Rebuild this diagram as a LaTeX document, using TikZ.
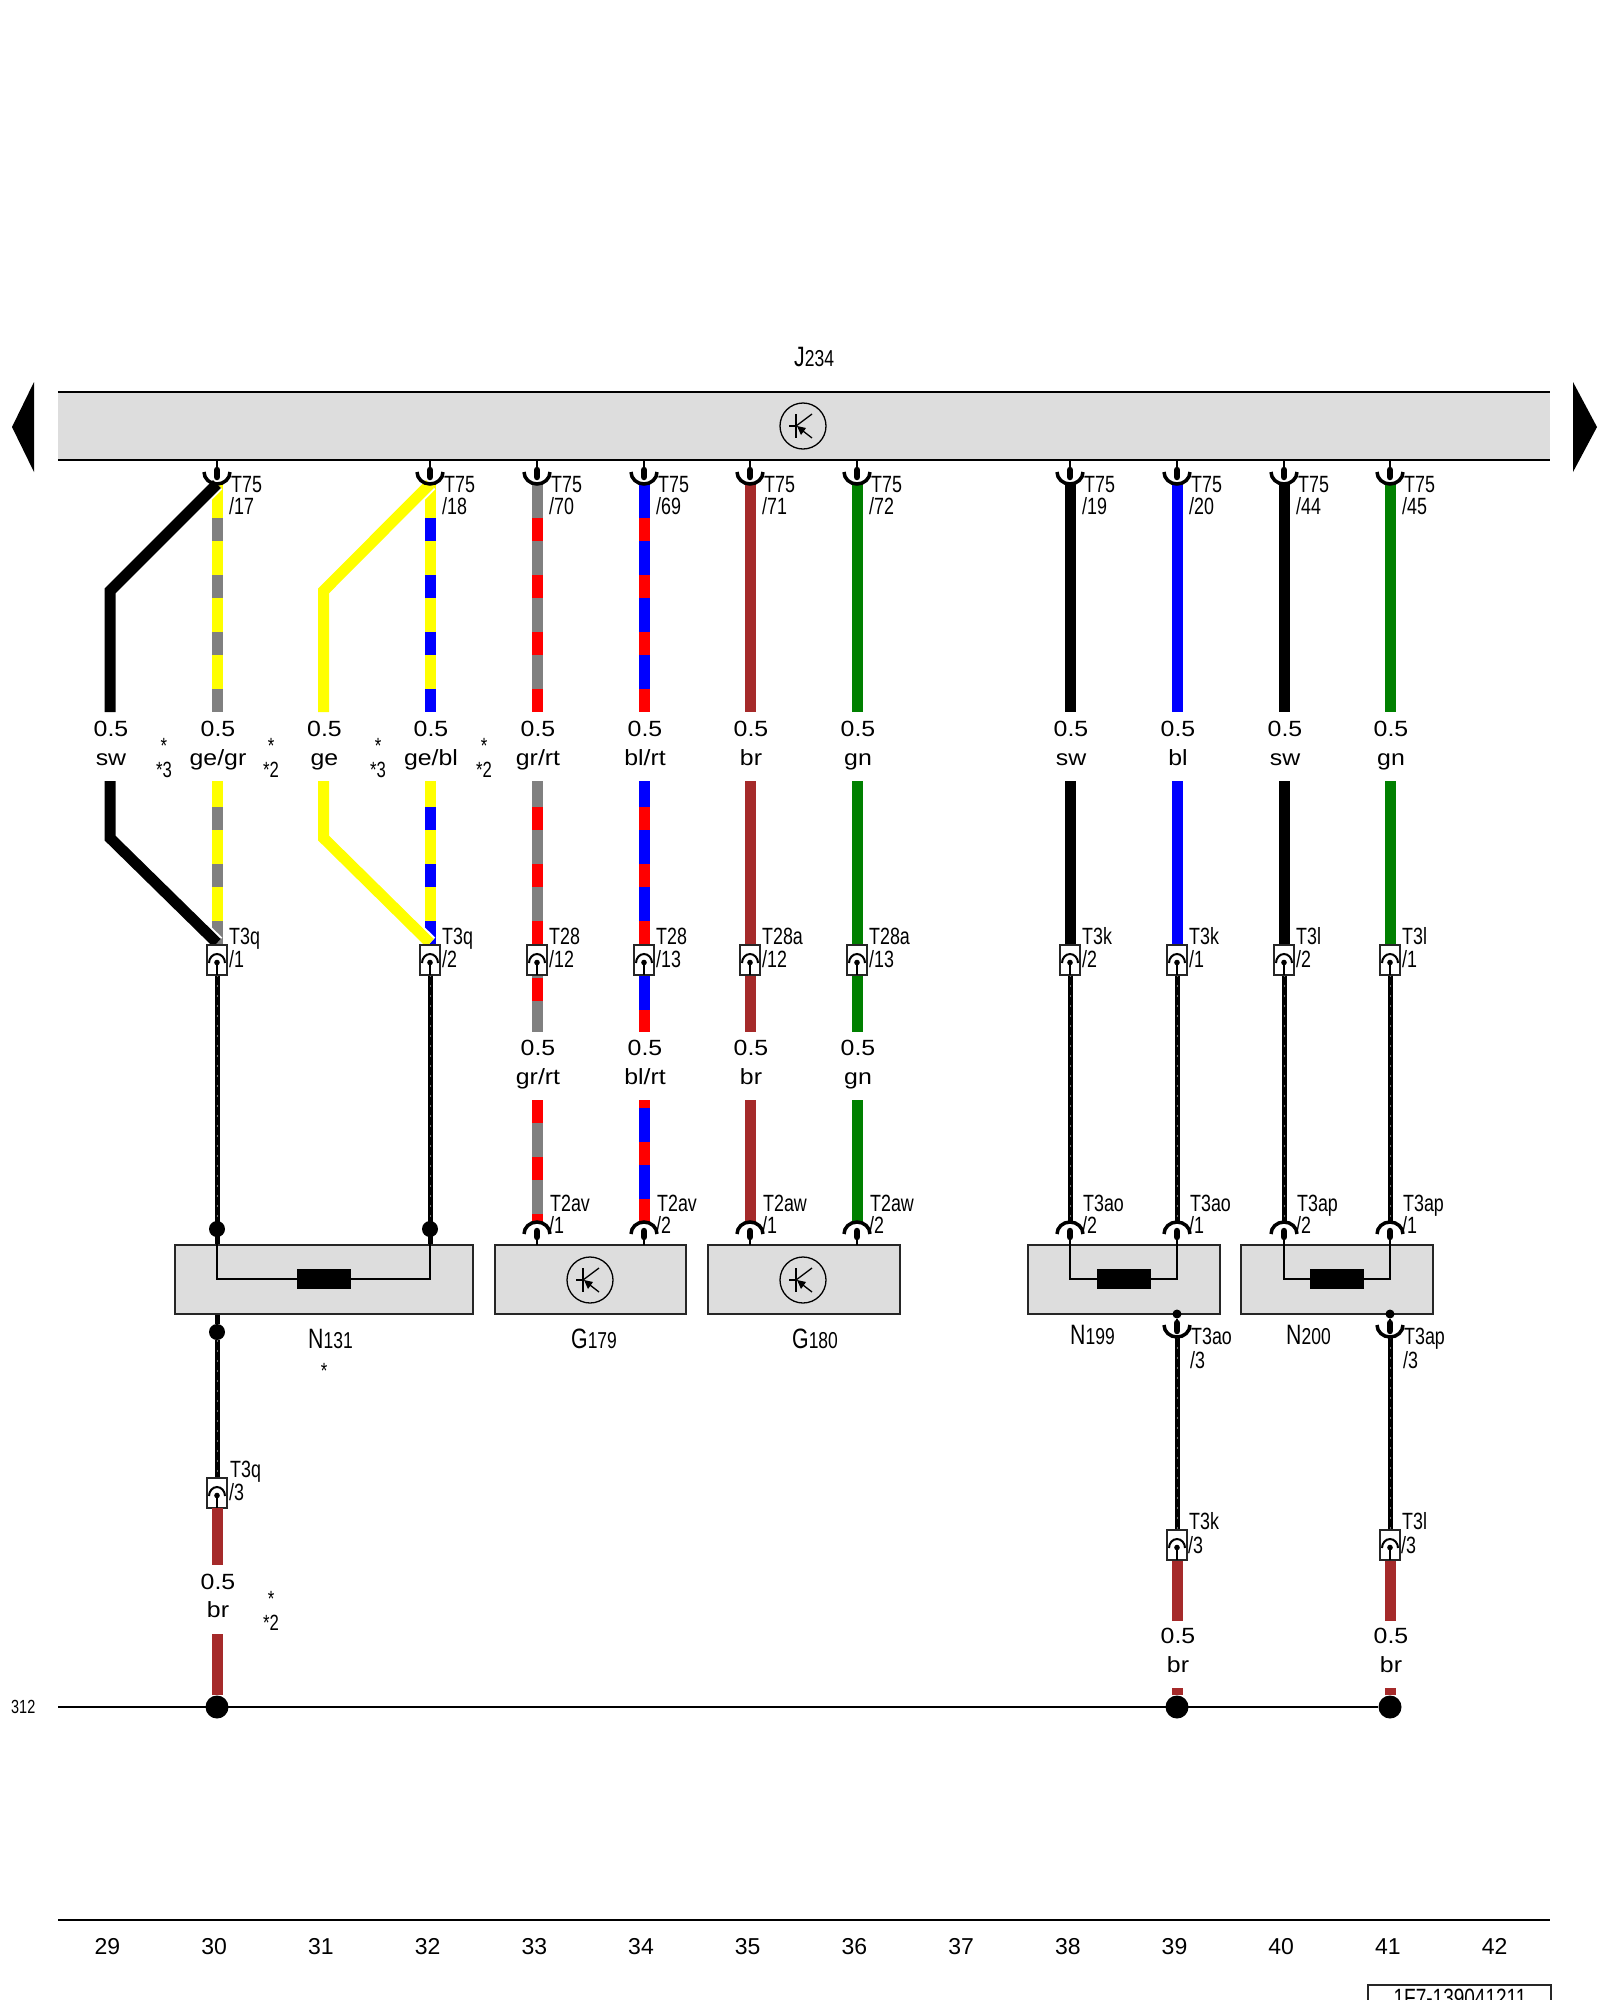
\documentclass[tikz,border=0pt]{standalone}
\usepackage{fontspec}
\setmainfont{Liberation Sans}
\newfontfamily\narrowfont[FakeStretch=0.76]{Liberation Sans}
\newfontfamily\widefont[FakeStretch=1.13]{Liberation Sans}
\definecolor{unitgray}{HTML}{DDDDDD}
\definecolor{wiregray}{HTML}{808080}
\definecolor{wirebrown}{HTML}{A52A2A}
\definecolor{wiregreen}{HTML}{008000}
\definecolor{wireyellow}{HTML}{FFFF00}
\tikzset{
	wire/.style={line width=11pt},
	stripe/.style={wire, dash pattern=on 23pt off 34pt},
	halo/.style={line width=15pt, white},
	twist/.style={line width=5pt, black, postaction={draw=black!55, line width=1pt, dash pattern=on 2pt off 8pt}},
	rule/.style={line width=2pt, black},
	unit/.style={draw=black!85, line width=2.5pt, fill=unitgray, inner sep=0pt, minimum height=69pt},
	coil/.style={fill=black, inner sep=0pt, minimum width=54pt, minimum height=20pt},
	coilline/.style={line width=1.2pt, black},
	cup/.style={line width=3.5pt, black, x radius=13, y radius=12},
	pinhead/.style={line width=6.5pt, black, line cap=round},
	stem/.style={line width=2.5pt, black},
	conbox/.style={line width=2.5pt, draw=black!85, fill=white},
	dotsmall/.style={circle, fill=black, inner sep=0pt, minimum size=16pt},
	busdot/.style={circle, fill=black, inner sep=0pt, minimum size=23pt},
	size/.style={inner sep=0pt, anchor=base, font=\widefont\fontsize{22}{22}\selectfont},
	tag/.style={inner sep=0pt, anchor=base west, font=\narrowfont\fontsize{23.5}{23.5}\selectfont},
	star/.style={inner sep=0pt, anchor=base, font=\narrowfont\fontsize{22}{22}\selectfont},
	colnum/.style={inner sep=0pt, anchor=base, font=\fontsize{23}{23}\selectfont},
}
\newcommand{\partbig}[1]{{\fontsize{28}{28}\selectfont #1}}
\newcommand{\partlow}[1]{{\fontsize{23}{23}\selectfont #1}}
\begin{document}
\begin{tikzpicture}[x=1pt,y=-1pt]
	\useasboundingbox (0,0) rectangle (1600,2000);
	\clip (0,0) rectangle (1600,2000);

	\foreach \n/\x in {a/110,b/217,c/323.5,d/430,e/537,f/644,g/750,h/857,i/1070,j/1177,k/1284,l/1390} {
		\coordinate (top\n) at (\x,484);
		\coordinate (cut\n) at (\x,712);
		\coordinate (mid\n) at (\x,781);
		\coordinate (con\n) at (\x,945);
		\coordinate (end\n) at (\x,1032);
		\coordinate (low\n) at (\x,1100);
		\coordinate (plug\n) at (\x,1222);
	}

	% control unit bar
	\node[fill=unitgray, inner sep=0pt, minimum width=1492pt, minimum height=68pt] (j234) at (804,426) {};
	\draw[rule] (j234.north west) -- (j234.north east);
	\draw[rule] (j234.south west) -- (j234.south east);
	\fill (34,382) -- (12,427) -- (34,472) -- cycle;
	\fill (1573,382) -- (1597,427) -- (1573,472) -- cycle;

	% wires, plain ones
	\foreach \n/\c in {g/wirebrown,h/wiregreen,i/black,j/blue,k/black,l/wiregreen} {
		\draw[wire,\c] (mid\n) -- (con\n);
		\draw[wire,\c] (top\n) -- (cut\n);
	}
	\foreach \n/\c in {g/wirebrown,h/wiregreen} {
		\draw[wire,\c] (mid\n) -- (end\n);
		\draw[wire,\c] (low\n) -- (plug\n);
	}

	% wires with a second colour
	\foreach \n/\c/\s in {b/wireyellow/wiregray,d/wireyellow/blue,e/wiregray/red,f/blue/red} {
		\draw[wire,\c] (top\n) -- (cut\n);
		\draw[stripe,\s,dash phase=23pt] (top\n) -- (cut\n);
	}
	\foreach \n/\c/\s in {b/wireyellow/wiregray,d/wireyellow/blue} {
		\draw[wire,\c] (mid\n) -- (con\n);
		\draw[stripe,\s,dash phase=31pt] (mid\n) -- (con\n);
	}
	\draw[wire,wiregray] (mide) -- (ende);
	\draw[stripe,red,dash phase=31pt] (mide) -- (ende);
	\draw[wire,blue] (midf) -- (endf);
	\draw[stripe,red,dash phase=31pt] (midf) -- (conf);
	\draw[wire,red] (endf |- 0,1010) -- (endf);
	\draw[wire,wiregray] (lowe) -- (pluge);
	\draw[stripe,red] (lowe) -- (pluge);
	\draw[wire,blue] (lowf) -- (plugf);
	\draw[stripe,red,dash phase=15pt] (lowf) -- (plugf);

	% the two wires that run round
	\coordinate (upsw) at (110,591);
	\coordinate (downsw) at (110,838);
	\coordinate (upge) at (323.5,591);
	\coordinate (downge) at (323.5,838);
	\coordinate (endsw) at (217,943);
	\coordinate (endge) at (430,943);
	\draw[halo] (upsw) -- (topb);
	\draw[halo] (downsw) -- (endsw);
	\draw[halo] (upge) -- (topd);
	\draw[halo] (downge) -- (endge);
	\draw[wire,black] (cuta) -- (upsw) -- (topb);
	\draw[wire,black] (mida) -- (downsw) -- (endsw);
	\draw[wire,wireyellow] (cutc) -- (upge) -- (topd);
	\draw[wire,wireyellow] (midc) -- (downge) -- (endge);

	% units
	\node[unit, minimum width=298pt] (n131) at (324,1279.5) {};
	\node[unit, minimum width=191pt] (g179) at (590.5,1279.5) {};
	\node[unit, minimum width=192pt] (g180) at (804,1279.5) {};
	\node[unit, minimum width=192pt] (n199) at (1124,1279.5) {};
	\node[unit, minimum width=192pt] (n200) at (1337,1279.5) {};
	\node[coil] (coil131) at (324,1279) {};
	\node[coil] (coil199) at (1124,1279) {};
	\node[coil] (coil200) at (1337,1279) {};
	\foreach \u/\l/\r in {131/b/d,199/i/j,200/k/l} {
		\draw[coilline] (con\l |- n\u.north) |- (coil\u.west);
		\draw[coilline] (con\r |- n\u.north) |- (coil\u.east);
	}
	\foreach \x/\y in {803/426,590/1280,803/1280} {
		\draw[line width=1.3pt] (\x,\y) circle[radius=23];
		\draw[line width=1.3pt] (\x-14,\y) -- (\x-7,\y);
		\draw[line width=1.3pt] (\x-7,\y-12) -- (\x-7,\y+12);
		\draw[line width=1.3pt] (\x-7,\y) -- (\x+9,\y-12);
		\draw[line width=1.3pt] (\x+9,\y+12) -- (\x,\y+5);
		\fill (\x-6,\y) -- (\x+3,\y+2) -- (\x-2,\y+9) -- cycle;
	}

	% twisted leads
	\foreach \n in {b,d,i,j,k,l} {
		\coordinate (tw\n) at (con\n |- 0,975);
	}
	\foreach \n in {b,d} {
		\draw[twist] (tw\n) -- (con\n |- n131.north);
		\node[dotsmall] (dot\n) at (con\n |- 0,1229) {};
	}
	\foreach \n in {i,j,k,l} {
		\draw[twist] (tw\n) -- (plug\n);
	}
	\node[dotsmall] (dotlow) at (217,1332) {};
	\coordinate (t3q) at (217,1478);
	\coordinate (t3k) at (1177,1530);
	\coordinate (t3l) at (1390,1530);
	\draw[twist] (dotlow) -- (t3q);
	\draw[line width=5pt] (conb |- n131.south) -- (dotlow);
	\draw[twist] (conj |- 0,1337) -- (t3k);
	\draw[twist] (conl |- 0,1337) -- (t3l);

	% connector at the bar
	\foreach \n in {b,d,e,f,g,h,i,j,k,l} {
		\draw[cup] (top\n) ++(-13,-12) arc[start angle=180, end angle=0];
		\draw[stem] (top\n |- j234.south) -- (top\n |- 0,470);
		\draw[pinhead] (top\n |- 0,470) -- (top\n |- 0,477);
	}

	% connector at the units
	\foreach \n in {e,f,g,h,i,j,k,l} {
		\draw[cup] (plug\n) ++(-13,12) arc[start angle=180, end angle=360];
		\draw[stem] (plug\n |- 0,1234) -- (plug\n |- 0,1245);
		\draw[pinhead] (plug\n |- 0,1231) -- (plug\n |- 0,1237);
	}

	% connector under N199 and N200
	\foreach \n in {j,l} {
		\node[circle, fill=black, inner sep=0pt, minimum size=9pt] (tail\n) at (con\n |- 0,1314) {};
		\draw[cup] (con\n |- 0,1325) ++(-13,0) arc[start angle=180, end angle=0];
		\draw[stem] (tail\n) -- (con\n |- 0,1322);
		\draw[pinhead] (con\n |- 0,1323) -- (con\n |- 0,1331);
	}

	% inline connector
	\foreach \x/\y in {217/945,430/945,537/945,644/945,750/945,857/945,1070/945,1177/945,1284/945,1390/945,217/1478,1177/1530,1390/1530} {
		\draw[conbox] (\x-10,\y) rectangle (\x+10,\y+30);
		\draw[line width=2pt] (\x-8,\y+18) arc[start angle=180, end angle=360, x radius=8, y radius=9];
		\draw[line width=2pt] (\x,\y+16) -- (\x,\y+30);
		\fill (\x,\y+17.5) circle[radius=2.8];
	}

	% return wires and bus
	\coordinate (busstart) at (58,1707);
	\node[busdot] (bus30) at (217,1707) {};
	\node[busdot] (bus39) at (1177,1707) {};
	\node[busdot] (bus41) at (1390,1707) {};
	\draw[rule] (busstart) -- (bus41);
	\draw[wire,wirebrown] (217,1508) -- (217,1565);
	\draw[wire,wirebrown] (217,1634) -- (bus30);
	\draw[wire,wirebrown] (1177,1561) -- (1177,1621);
	\draw[wire,wirebrown] (1177,1688) -- (bus39);
	\draw[wire,wirebrown] (1390,1561) -- (1390,1621);
	\draw[wire,wirebrown] (1390,1688) -- (bus41);

	% size and colour labels
	\foreach \x/\t [count=\i] in {111/sw,218/ge\slash gr,324.5/ge,431/ge\slash bl,538/gr\slash rt,645/bl\slash rt,751/br,858/gn,1071/sw,1178/bl,1285/sw,1391/gn} {
		\node[size] (size\i) at (\x,736) {0.5};
		\node[size] (code\i) at (\x,765) {\t};
	}
	\foreach \x/\t [count=\i] in {538/gr\slash rt,645/bl\slash rt,751/br,858/gn} {
		\node[size] (sizemid\i) at (\x,1055) {0.5};
		\node[size] (codemid\i) at (\x,1084) {\t};
	}
	\foreach \x/\a/\b/\c in {218/1589/1617/a,1178/1643/1672/b,1391/1643/1672/c} {
		\node[size] (sizelow\c) at (\x,\a) {0.5};
		\node[size] (codelow\c) at (\x,\b) {br};
	}

	% stars
	\foreach \x/\t [count=\i] in {164/3,271/2,378/3,484/2} {
		\node[star] (star\i) at (\x,753) {*};
		\node[star] (note\i) at (\x,777) {*\t};
	}
	\node[star] (starlow) at (271,1606) {*};
	\node[star] (notelow) at (271,1630) {*2};
	\node[star] (starn) at (324,1378) {*};

	% connector tags
	\foreach \x/\t/\p [count=\i] in {217/T75/17,430/T75/18,537/T75/70,644/T75/69,750/T75/71,857/T75/72,1070/T75/19,1177/T75/20,1284/T75/44,1390/T75/45} {
		\node[tag] (tagtop\i) at (\x+14,492) {\t};
		\node[tag] (pintop\i) at (\x+12,514) {/\p};
	}
	\foreach \x/\t/\p [count=\i] in {217/T3q/1,430/T3q/2,537/T28/12,644/T28/13,750/T28a/12,857/T28a/13,1070/T3k/2,1177/T3k/1,1284/T3l/2,1390/T3l/1} {
		\node[tag] (tagmid\i) at (\x+12,944) {\t};
		\node[tag] (pinmid\i) at (\x+12,967) {/\p};
	}
	\foreach \x/\t/\p [count=\i] in {537/T2av/1,644/T2av/2,750/T2aw/1,857/T2aw/2,1070/T3ao/2,1177/T3ao/1,1284/T3ap/2,1390/T3ap/1} {
		\node[tag] (tagunit\i) at (\x+13,1211) {\t};
		\node[tag] (pinunit\i) at (\x+12,1233) {/\p};
	}
	\node[tag] (tagao) at (1191,1344) {T3ao};
	\node[tag] (pinao) at (1190,1368) {/3};
	\node[tag] (tagap) at (1404,1344) {T3ap};
	\node[tag] (pinap) at (1403,1368) {/3};
	\node[tag] (tagk) at (1189,1529) {T3k};
	\node[tag] (pink) at (1188,1553) {/3};
	\node[tag] (tagl) at (1402,1529) {T3l};
	\node[tag] (pinl) at (1401,1553) {/3};
	\node[tag] (tagq) at (230,1477) {T3q};
	\node[tag] (pinq) at (229,1500) {/3};

	% part names
	\node[tag] (namej) at (794,366) {\partbig{J}\partlow{234}};
	\node[tag] (namen131) at (308,1348) {\partbig{N}\partlow{131}};
	\node[tag] (nameg179) at (571,1348) {\partbig{G}\partlow{179}};
	\node[tag] (nameg180) at (792,1348) {\partbig{G}\partlow{180}};
	\node[tag] (namen199) at (1070,1344) {\partbig{N}\partlow{199}};
	\node[tag] (namen200) at (1286,1344) {\partbig{N}\partlow{200}};

	% foot of the page
	\draw[rule] (58,1920) -- (1550,1920);
	\foreach \n [count=\i from 0] in {29,...,42} {
		\node[colnum] (col\n) at ({107.5+106.7*\i},1954) {\n};
	}
	\node[inner sep=0pt, anchor=base west, font=\narrowfont\fontsize{19}{19}\selectfont] (line312) at (11,1713) {312};
	\draw[conbox] (1368,1985) rectangle (1551,2020);
	\node[inner sep=0pt, anchor=base, font=\narrowfont\fontsize{25}{25}\selectfont] (code) at (1460,2006) {1F7-139041211};
\end{tikzpicture}
\end{document}
